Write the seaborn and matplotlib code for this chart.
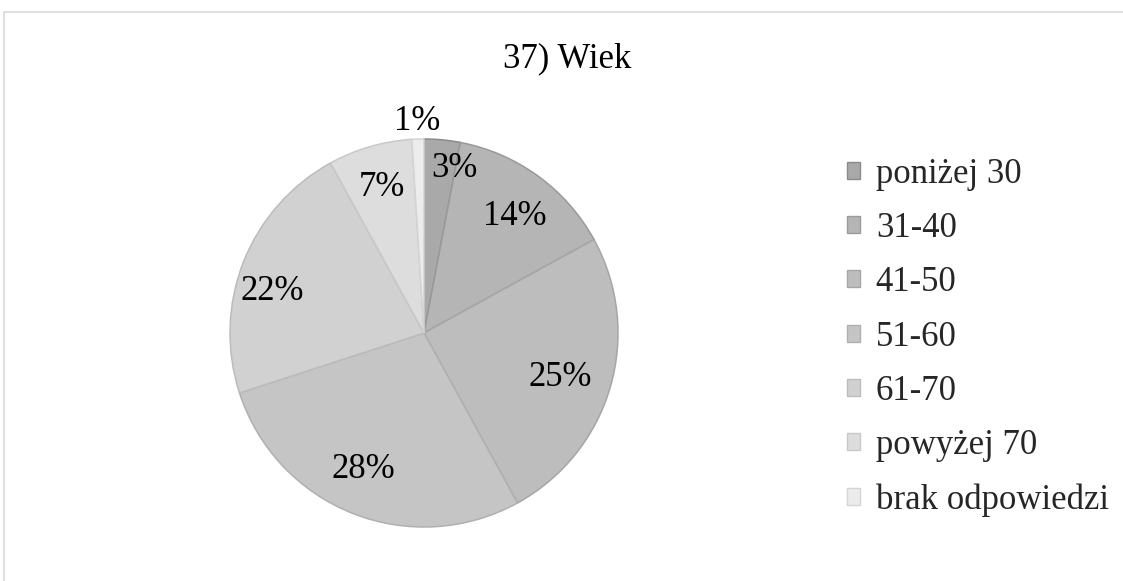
import numpy as np
import matplotlib
matplotlib.use("Agg")
import matplotlib.pyplot as plt
from matplotlib.patches import Patch, Rectangle
import seaborn as sns

# Age distribution of respondents (percent)
categories = ["poniżej 30", "31-40", "41-50", "51-60", "61-70", "powyżej 70", "brak odpowiedzi"]
shares = [3, 14, 25, 28, 22, 7, 1]
pct_labels = ["3%", "14%", "25%", "28%", "22%", "7%", "1%"]

# Grayscale fills and slightly darker edges for each slice
fills = ["#a9a9a9", "#b5b5b5", "#bdbdbd", "#c5c5c5", "#d1d1d1", "#dddddd", "#ececec"]
edges = ["#8a8a8a", "#9a9a9a", "#a6a6a6", "#b0b0b0", "#bcbcbc", "#c8c8c8", "#d4d4d4"]
# Label placement: fraction of radius and angular nudge (degrees) per slice
label_r = [0.86, 0.76, 0.74, 0.77, 0.81, 0.78, 1.09]
label_da = [-5.0, -2.0, -1.8, -2.4, 6.3, 0.0, 0.0]

sns.set_theme(style="white")
plt.rcParams["font.family"] = ["Liberation Serif", "DejaVu Serif"]

W, H, DPI = 1123, 581, 100
FS = 25
fig = plt.figure(figsize=(W / DPI, H / DPI), dpi=DPI)
fig.patch.set_facecolor("white")

# Outer chart frame
fig.add_artist(Rectangle((4 / W, -0.05), 1.2, (H - 12) / H + 0.05,
                         transform=fig.transFigure, fill=False,
                         edgecolor="#d9d9d9", linewidth=1.2))

cx, cy, r = 424, 333, 194
ax = fig.add_axes([(cx - r) / W, (H - cy - r) / H, 2 * r / W, 2 * r / H])
wedges, _ = ax.pie(shares, colors=fills, startangle=90, counterclock=False,
                   radius=1.0, wedgeprops=dict(linewidth=1.1))
for w, ec in zip(wedges, edges):
    w.set_edgecolor(ec)
ax.set_xlim(-1, 1)
ax.set_ylim(-1, 1)
ax.set_aspect("equal")
ax.axis("off")

# Percentage labels placed at each slice's mid-angle
total = float(sum(shares))
cum = 0.0
for v, lab, rr, da in zip(shares, pct_labels, label_r, label_da):
    mid = 90 - (cum + v / 2) / total * 360 + da
    cum += v
    a = np.deg2rad(mid)
    ax.text(rr * np.cos(a), rr * np.sin(a), lab, ha="center", va="center",
            fontsize=FS, color="#000000", clip_on=False)

fig.text(567 / W, 1 - 59 / H, "37) Wiek", ha="center", va="center",
         fontsize=FS, color="#000000")

handles = [Patch(facecolor=f, edgecolor=e, linewidth=1.0) for f, e in zip(fills, edges)]
leg = fig.legend(handles, categories, loc="upper left",
                 bbox_to_anchor=(847 / W, 1 - 158 / H), frameon=False,
                 fontsize=FS, handlelength=0.38, handleheight=0.38,
                 handletextpad=0.45, labelspacing=0.61, borderpad=0, borderaxespad=0)

fig.savefig("out.png", dpi=DPI, facecolor="white")
